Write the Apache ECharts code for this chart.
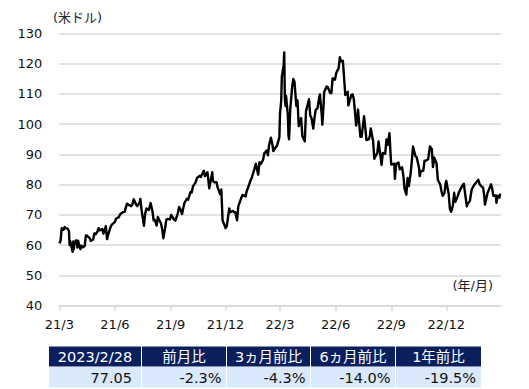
<!DOCTYPE html>
<html>
<head>
<meta charset="utf-8">
<script src="https://cdn.jsdelivr.net/npm/echarts@6/dist/echarts.min.js"></script>
<style>
html,body{margin:0;padding:0;background:#fff;}
#c{width:529px;height:389px;}
</style>
</head>
<body>
<div id="c"></div>
<script>
// ---- data ----
var priceDates = [
'2021-03-01','2021-03-03','2021-03-05','2021-03-08','2021-03-10','2021-03-12','2021-03-15','2021-03-17','2021-03-18','2021-03-19',
'2021-03-23','2021-03-24','2021-03-25','2021-03-26','2021-03-29','2021-03-31','2021-04-01','2021-04-05','2021-04-07','2021-04-09',
'2021-04-12','2021-04-14','2021-04-16','2021-04-20','2021-04-22','2021-04-26','2021-04-28','2021-04-30','2021-05-03','2021-05-05',
'2021-05-07','2021-05-11','2021-05-13','2021-05-17','2021-05-19','2021-05-21','2021-05-25','2021-05-27','2021-06-01','2021-06-03',
'2021-06-07','2021-06-10','2021-06-14','2021-06-17','2021-06-21','2021-06-24','2021-06-28','2021-06-30','2021-07-02','2021-07-06',
'2021-07-08','2021-07-12','2021-07-13','2021-07-15','2021-07-16','2021-07-19','2021-07-21','2021-07-23','2021-07-27','2021-07-30',
'2021-08-02','2021-08-04','2021-08-06','2021-08-09','2021-08-11','2021-08-13','2021-08-16','2021-08-18','2021-08-20','2021-08-23',
'2021-08-25','2021-08-27','2021-08-31','2021-09-02','2021-09-07','2021-09-09','2021-09-13','2021-09-15','2021-09-17','2021-09-20',
'2021-09-22','2021-09-24','2021-09-28','2021-09-30','2021-10-04','2021-10-06','2021-10-08','2021-10-12','2021-10-15','2021-10-19',
'2021-10-21','2021-10-26','2021-10-28','2021-11-01','2021-11-04','2021-11-09','2021-11-10','2021-11-12','2021-11-16','2021-11-18',
'2021-11-22','2021-11-24','2021-11-26','2021-11-30','2021-12-01','2021-12-03','2021-12-07','2021-12-09','2021-12-13','2021-12-15',
'2021-12-17','2021-12-20','2021-12-22','2021-12-27','2021-12-29','2022-01-03','2022-01-05','2022-01-07','2022-01-11','2022-01-13',
'2022-01-18','2022-01-20','2022-01-24','2022-01-26','2022-01-28','2022-02-01','2022-02-03','2022-02-07','2022-02-09','2022-02-11',
'2022-02-14','2022-02-16','2022-02-18','2022-02-22','2022-02-24','2022-02-28','2022-03-01','2022-03-03','2022-03-04','2022-03-07',
'2022-03-08','2022-03-09','2022-03-10','2022-03-11','2022-03-14','2022-03-15','2022-03-16','2022-03-18','2022-03-21','2022-03-23',
'2022-03-25','2022-03-28','2022-03-30','2022-04-01','2022-04-05','2022-04-07','2022-04-11','2022-04-13','2022-04-18','2022-04-20',
'2022-04-22','2022-04-25','2022-04-27','2022-04-29','2022-05-02','2022-05-04','2022-05-06','2022-05-09','2022-05-10','2022-05-12',
'2022-05-13','2022-05-17','2022-05-19','2022-05-23','2022-05-25','2022-05-27','2022-05-31','2022-06-02','2022-06-06','2022-06-08',
'2022-06-10','2022-06-13','2022-06-15','2022-06-17','2022-06-21','2022-06-22','2022-06-24','2022-06-27','2022-06-29','2022-07-01',
'2022-07-05','2022-07-07','2022-07-08','2022-07-12','2022-07-13','2022-07-14','2022-07-18','2022-07-20','2022-07-22','2022-07-26',
'2022-07-28','2022-07-29','2022-08-02','2022-08-04','2022-08-05','2022-08-09','2022-08-11','2022-08-16','2022-08-18','2022-08-22',
'2022-08-24','2022-08-26','2022-08-29','2022-08-31','2022-09-01','2022-09-06','2022-09-07','2022-09-09','2022-09-13','2022-09-15',
'2022-09-19','2022-09-21','2022-09-23','2022-09-26','2022-09-28','2022-09-30','2022-10-03','2022-10-05','2022-10-07','2022-10-11',
'2022-10-13','2022-10-17','2022-10-18','2022-10-20','2022-10-24','2022-10-26','2022-10-28','2022-11-01','2022-11-04','2022-11-07',
'2022-11-09','2022-11-11','2022-11-15','2022-11-17','2022-11-21','2022-11-23','2022-11-25','2022-11-28','2022-11-30','2022-12-01',
'2022-12-05','2022-12-07','2022-12-09','2022-12-12','2022-12-14','2022-12-16','2022-12-20','2022-12-22','2022-12-27','2022-12-30',
'2023-01-04','2023-01-06','2023-01-09','2023-01-12','2023-01-17','2023-01-19','2023-01-23','2023-01-25','2023-01-27','2023-01-31',
'2023-02-02','2023-02-03','2023-02-07','2023-02-09','2023-02-13','2023-02-15','2023-02-17','2023-02-21','2023-02-22','2023-02-24',
'2023-02-27','2023-02-28'
];
var priceValues = [
60.6,61.3,65.6,65.1,66.0,65.6,65.4,64.6,60.0,61.4,
57.8,61.2,58.6,60.9,61.6,59.2,61.5,58.7,59.8,59.3,
59.7,63.2,63.1,62.4,61.4,61.9,63.9,63.6,64.5,65.6,
64.9,65.3,63.8,66.3,62.0,63.6,66.1,66.8,67.7,68.8,
69.2,70.3,70.9,71.0,73.7,73.3,72.9,73.5,75.2,73.4,
72.9,74.1,75.3,71.7,71.8,66.4,70.3,72.1,71.6,73.9,
71.3,68.2,68.3,66.5,69.3,68.4,67.3,65.5,62.3,65.6,
68.4,68.7,68.5,70.0,68.4,68.1,70.5,72.6,72.0,70.3,
72.2,74.0,75.3,75.0,77.6,77.4,79.4,80.6,82.3,82.9,
82.5,84.6,82.8,84.1,78.8,84.1,81.3,80.8,80.8,79.0,
76.8,78.4,68.2,66.2,65.6,66.3,72.1,70.9,71.3,70.9,
70.9,68.2,72.8,75.6,76.6,76.1,77.9,78.9,81.2,82.1,
85.4,86.9,83.3,87.4,86.8,88.2,90.3,91.3,89.7,93.1,
95.5,93.7,91.1,92.4,92.8,95.7,103.4,107.7,115.7,119.4,
123.7,108.7,106.0,109.3,103.0,96.4,95.0,105.0,112.1,114.9,
113.9,106.0,107.8,99.3,102.0,96.0,94.3,104.3,108.2,102.8,
102.1,98.5,102.0,104.7,105.2,107.8,109.8,103.1,99.8,106.1,
110.5,112.4,112.2,110.3,110.3,115.1,114.7,116.9,118.5,122.1,
120.7,120.9,115.3,109.6,110.7,106.2,107.6,109.6,109.8,108.4,
99.5,102.7,104.8,95.8,96.3,95.8,102.6,98.9,94.7,95.0,
96.4,98.6,94.4,88.5,89.0,90.5,94.3,86.5,90.5,90.2,
94.9,93.1,97.0,89.6,86.6,86.9,81.9,86.8,87.3,85.1,
85.7,82.9,78.7,76.7,82.2,79.5,83.6,87.8,92.6,89.4,
89.1,85.5,82.8,84.5,84.6,87.9,87.9,88.4,92.6,91.8,
85.8,89.0,86.9,81.6,80.0,77.9,76.3,77.2,80.6,81.2,
76.9,72.0,71.0,73.2,77.3,74.3,76.2,77.5,79.5,80.3,
72.8,73.8,74.6,78.4,80.2,80.6,81.6,80.2,79.7,78.9,
75.9,73.4,77.1,78.1,80.1,78.6,76.3,76.4,74.0,76.3,
75.7,77.05
];
var tickDates = ['2021-03-01','2021-06-01','2021-09-01','2021-12-01','2022-03-01','2022-06-01','2022-09-01','2022-12-01'];
var tickLabels = ['21/3','21/6','21/9','21/12','22/3','22/6','22/9','22/12'];
var axisStart = '2021-03-01';
var axisEnd = '2023-03-01';
var yMin = 40, yMax = 130, yStep = 10;
var yUnit = '(米ドル)';
var xUnit = '(年/月)';
var tableHeaders = ['2023/2/28','前月比','3ヵ月前比','6ヵ月前比','1年前比'];
var tableValues = ['77.05','-2.3%','-4.3%','-14.0%','-19.5%'];

// ---- helpers ----
var DAY = 86400000;
function ts(s){var p=s.split('-');return Date.UTC(+p[0],+p[1]-1,+p[2]);}
var tickTs = tickDates.map(ts);
var seriesData = priceDates.map(function(d,i){return [ts(d), priceValues[i]];});

var FONT = '"DejaVu Sans","Noto Sans CJK JP",sans-serif';

// table layout
var colX = [49,142,227,311,396];
var colW = [92,84,83,84,85];
var rowY = [346.5,367];
var rowH = [20,20.5];
var valPad = [9,4.5,4.5,4.5,5];
var graphics = [];
graphics.push({type:'text',left:53,top:11,style:{text:yUnit,font:'13px '+FONT,fill:'#222'}});
graphics.push({type:'text',right:36,top:279,style:{text:xUnit,font:'13px '+FONT,fill:'#222'}});
for (var i=0;i<tableHeaders.length;i++){
  graphics.push({type:'rect',shape:{x:colX[i],y:rowY[0],width:colW[i],height:rowH[0]},style:{fill:'#0b1f5e'},silent:true});
  graphics.push({type:'rect',shape:{x:colX[i],y:rowY[1],width:colW[i],height:rowH[1]},style:{fill:'#d9e9fb'},silent:true});
  graphics.push({type:'text',x:colX[i]+colW[i]/2,y:rowY[0]+rowH[0]/2+0.5,style:{text:tableHeaders[i],font:'14.5px '+FONT,fill:'#fff',align:'center',verticalAlign:'middle'},silent:true});
  graphics.push({type:'text',x:colX[i]+colW[i]-valPad[i],y:rowY[1]+rowH[1]/2+0.5,style:{text:tableValues[i],font:'14.5px '+FONT,fill:'#111',align:'right',verticalAlign:'middle'},silent:true});
}

var chart = echarts.init(document.getElementById('c'), null, {renderer:'svg'});
chart.setOption({
  animation:false,
  backgroundColor:'#fff',
  grid:{left:59.3,right:28.3,top:33.3,bottom:83.3,containLabel:false},
  xAxis:{
    type:'value',
    min:ts(axisStart), max:ts(axisEnd),
    axisLine:{show:true,onZero:false,lineStyle:{color:'#d9d9d9',width:1.5}},
    axisTick:{show:true,length:5,customValues:tickTs,lineStyle:{color:'#d9d9d9',width:1.5}},
    axisLabel:{
      customValues:tickTs, margin:12, color:'#111',
      fontFamily:FONT, fontSize:13,
      formatter:function(v){
        for (var k=0;k<tickTs.length;k++){ if (Math.abs(tickTs[k]-v)<DAY) return tickLabels[k]; }
        return '';
      }
    },
    splitLine:{show:false}
  },
  yAxis:{
    type:'value', min:yMin, max:yMax, interval:yStep,
    axisLine:{show:false}, axisTick:{show:false},
    axisLabel:{margin:17,color:'#111',fontFamily:FONT,fontSize:13},
    splitLine:{show:true,lineStyle:{color:'#d9d9d9',width:1.5}}
  },
  series:[{
    type:'line', data:seriesData, showSymbol:false, symbol:'none',
    lineStyle:{color:'#000',width:2.4,join:'round'}, z:5
  }],
  graphic:graphics
});
</script>
</body>
</html>
